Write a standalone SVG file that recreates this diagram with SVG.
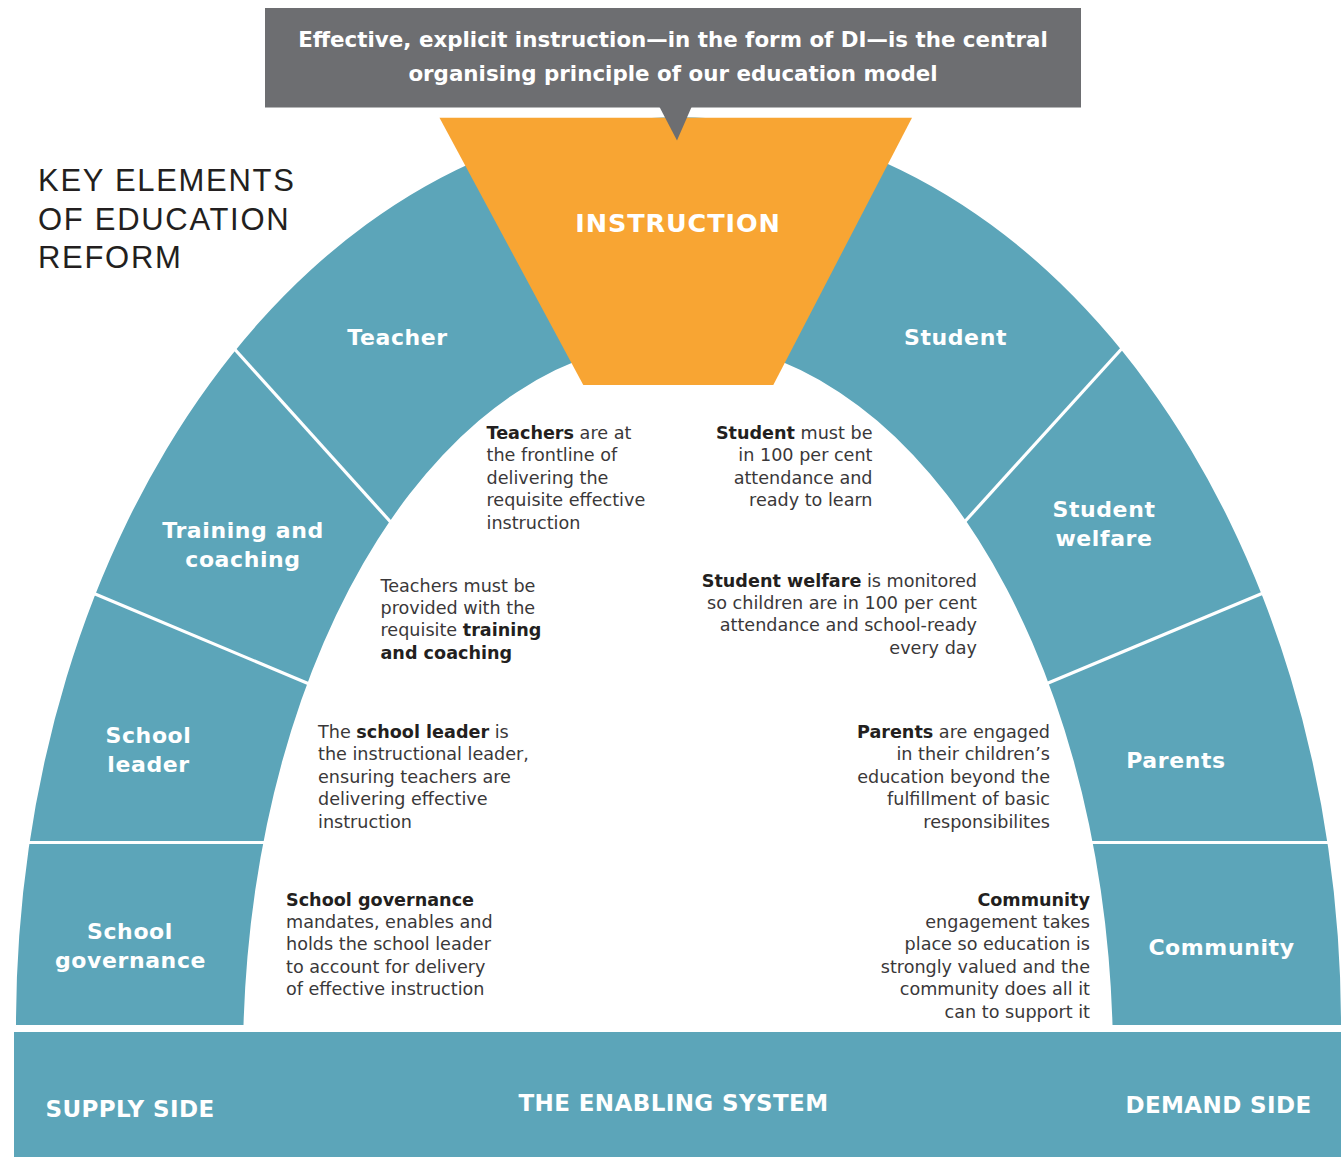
<svg xmlns="http://www.w3.org/2000/svg" width="1343" height="1157" viewBox="0 0 1343 1157">
<style>
.teal{fill:#5ca5b9}
.div{stroke:#fff;stroke-width:3.2;fill:none}
.lbl{font-family:"DejaVu Sans",sans-serif;font-weight:bold;font-size:22px;fill:#fff;text-anchor:middle;letter-spacing:0.6px}
.base{font-family:"DejaVu Sans",sans-serif;font-weight:bold;font-size:23px;fill:#fff;text-anchor:middle;letter-spacing:0.4px}
.body{font-family:"DejaVu Sans",sans-serif;font-size:17.6px;fill:#3a3839}
.b{font-weight:bold;fill:#231f20}
.end{text-anchor:end}
.title{font-family:"Liberation Sans",Arial,sans-serif;font-size:31px;fill:#231f20;letter-spacing:1.7px}
.hdr{font-family:"DejaVu Sans",sans-serif;font-weight:bold;font-size:21.4px;fill:#fff;text-anchor:middle}
</style>
<rect width="1343" height="1157" fill="#fff"/>

<g id="title">
<text class="title" x="38" y="191">KEY ELEMENTS</text>
<text class="title" x="38" y="229.5">OF EDUCATION</text>
<text class="title" x="38" y="268">REFORM</text>
</g>

<g id="arch">
<path class="teal" d="M16 1025 A662.5 908 0 0 1 1341 1025 L1112.5 1025 A435 718.5 0 0 0 243.5 1025 Z"/>
</g>

<g id="connectors">
<line class="div" x1="230" y1="344" x2="396" y2="528"/>
<line class="div" x1="88" y1="591" x2="314" y2="686"/>
<line class="div" x1="18" y1="842.5" x2="275" y2="842.5"/>
<line class="div" x1="1126" y1="344" x2="959" y2="528"/>
<line class="div" x1="1268" y1="591" x2="1041" y2="686"/>
<line class="div" x1="1080" y1="842.5" x2="1341" y2="842.5"/>
</g>

<g id="callout">
<rect x="265" y="8" width="816" height="99.5" fill="#6d6e71"/>
<text class="hdr" x="673" y="47">Effective, explicit instruction—in the form of DI—is the central</text>
<text class="hdr" x="673" y="81">organising principle of our education model</text>
</g>

<g id="instruction">
<polygon points="439.5,117.7 912,117.7 773.3,385 583.3,385" fill="#f8a533"/>
<polygon points="659,106 692,106 677,140.5" fill="#6d6e71"/>
<text x="678" y="231.5" style="font-family:'DejaVu Sans',sans-serif;font-weight:bold;font-size:25.5px;fill:#fff;text-anchor:middle;letter-spacing:0.9px">INSTRUCTION</text>
</g>

<g id="teacher">
<text class="lbl" x="397.5" y="345">Teacher</text>
<text class="body" x="486.5" y="439"><tspan class="b">Teachers</tspan> are at</text>
<text class="body" x="486.5" y="461.4">the frontline of</text>
<text class="body" x="486.5" y="483.8">delivering the</text>
<text class="body" x="486.5" y="506.2">requisite effective</text>
<text class="body" x="486.5" y="528.6">instruction</text>
</g>

<g id="training">
<text class="lbl" x="243" y="537.5">Training and</text>
<text class="lbl" x="243" y="566.5">coaching</text>
<text class="body" x="380.5" y="591.5">Teachers must be</text>
<text class="body" x="380.5" y="613.9">provided with the</text>
<text class="body" x="380.5" y="636.3">requisite <tspan class="b">training</tspan></text>
<text class="body b" x="380.5" y="658.7">and coaching</text>
</g>

<g id="school-leader">
<text class="lbl" x="148.5" y="743">School</text>
<text class="lbl" x="148.5" y="772">leader</text>
<text class="body" x="318" y="738">The <tspan class="b">school leader</tspan> is</text>
<text class="body" x="318" y="760.4">the instructional leader,</text>
<text class="body" x="318" y="782.8">ensuring teachers are</text>
<text class="body" x="318" y="805.2">delivering effective</text>
<text class="body" x="318" y="827.6">instruction</text>
</g>

<g id="school-governance">
<text class="lbl" x="130" y="939">School</text>
<text class="lbl" x="130.5" y="967.7">governance</text>
<text class="body b" x="286" y="905.5">School governance</text>
<text class="body" x="286" y="927.9">mandates, enables and</text>
<text class="body" x="286" y="950.3">holds the school leader</text>
<text class="body" x="286" y="972.7">to account for delivery</text>
<text class="body" x="286" y="995.1">of effective instruction</text>
</g>

<g id="student">
<text class="lbl" x="955.5" y="345">Student</text>
<text class="body end" x="872.5" y="439"><tspan class="b">Student</tspan> must be</text>
<text class="body end" x="872.5" y="461.4">in 100 per cent</text>
<text class="body end" x="872.5" y="483.8">attendance and</text>
<text class="body end" x="872.5" y="506.2">ready to learn</text>
</g>

<g id="student-welfare">
<text class="lbl" x="1104" y="516.7">Student</text>
<text class="lbl" x="1104" y="545.7">welfare</text>
<text class="body end" x="977" y="586.5"><tspan class="b">Student welfare</tspan> is monitored</text>
<text class="body end" x="977" y="608.9">so children are in 100 per cent</text>
<text class="body end" x="977" y="631.3">attendance and school-ready</text>
<text class="body end" x="977" y="653.7">every day</text>
</g>

<g id="parents">
<text class="lbl" x="1176" y="768">Parents</text>
<text class="body end" x="1050" y="738"><tspan class="b">Parents</tspan> are engaged</text>
<text class="body end" x="1050" y="760.4">in their children’s</text>
<text class="body end" x="1050" y="782.8">education beyond the</text>
<text class="body end" x="1050" y="805.2">fulfillment of basic</text>
<text class="body end" x="1050" y="827.6">responsibilites</text>
</g>

<g id="community">
<text class="lbl" x="1221.5" y="955">Community</text>
<text class="body end b" x="1090" y="905.5">Community</text>
<text class="body end" x="1090" y="927.9">engagement takes</text>
<text class="body end" x="1090" y="950.3">place so education is</text>
<text class="body end" x="1090" y="972.7">strongly valued and the</text>
<text class="body end" x="1090" y="995.1">community does all it</text>
<text class="body end" x="1090" y="1017.5">can to support it</text>
</g>

<g id="enabling-system">
<rect class="teal" x="14" y="1032" width="1327" height="125"/>
<text class="base" x="130" y="1117">SUPPLY SIDE</text>
<text class="base" x="673.5" y="1111">THE ENABLING SYSTEM</text>
<text class="base" x="1218.5" y="1113">DEMAND SIDE</text>
</g>
</svg>
